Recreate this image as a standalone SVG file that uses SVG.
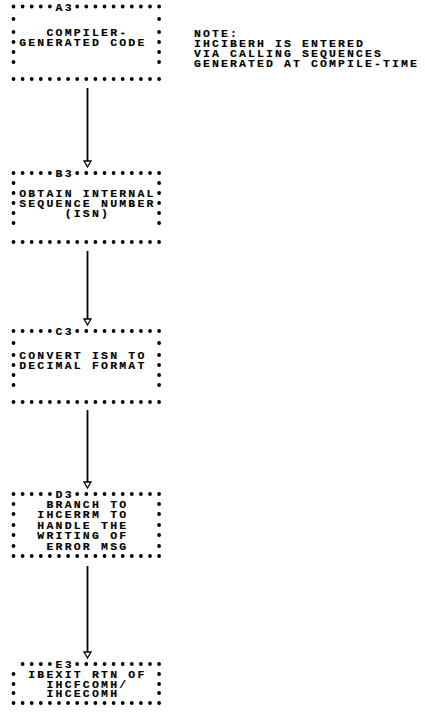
<svg xmlns="http://www.w3.org/2000/svg" width="425" height="713" viewBox="0 0 425 713">
<style>
.bg{fill:#fff}
.d{fill:none;stroke:#000;stroke-width:3.8;stroke-linecap:round}
.row{stroke-dasharray:0 9.1}
.t{font-family:"Liberation Mono","DejaVu Sans Mono",monospace;font-size:11.5px;font-weight:bold;fill:#000;stroke:#000;stroke-width:0.15;letter-spacing:2.2px}
.n{letter-spacing:2.1px}
.ln{fill:none;stroke:#000;stroke-width:1.8}
.ah{fill:#fff;stroke:#000;stroke-width:1.3;stroke-linejoin:miter}
</style>
<rect class="bg" width="425" height="713"/>

<g id="connectors">
  <path class="ln" d="M87.5 88V161"/>
  <polygon class="ah" points="84,161 91,161 87.5,167"/>
  <path class="ln" d="M87.5 251V319"/>
  <polygon class="ah" points="84,319 91,319 87.5,325"/>
  <path class="ln" d="M87.5 410V482"/>
  <polygon class="ah" points="84,482 91,482 87.5,488"/>
  <path class="ln" d="M87.5 566V652"/>
  <polygon class="ah" points="84,652 91,652 87.5,658"/>
</g>

<g id="A3">
  <path class="d row" d="M13.5 6.5H50M77.2 6.5H159.2M13.5 79H159.2"/>
  <path class="d" d="M13.5 19h0M13.5 32h0M13.5 42h0M13.5 52h0M13.5 62h0M159.1 19h0M159.1 32h0M159.1 42h0M159.1 52h0M159.1 62h0"/>
  <text class="t" x="55.55" y="10.5">A3</text>
  <text class="t" x="46.45" y="36">COMPILER-</text>
  <text class="t" x="19.15" y="46">GENERATED CODE</text>
</g>

<g id="note">
  <text class="t n" x="194" y="37">NOTE:</text>
  <text class="t n" x="194" y="47">IHCIBERH IS ENTERED</text>
  <text class="t n" x="194" y="57">VIA CALLING SEQUENCES</text>
  <text class="t n" x="194" y="67">GENERATED AT COMPILE-TIME</text>
</g>

<g id="B3">
  <path class="d row" d="M13.5 173H50M77.2 173H159.2M13.5 242H159.2"/>
  <path class="d" d="M13.5 183h0M13.5 193h0M13.5 203h0M13.5 213h0M13.5 223h0M159.1 183h0M159.1 193h0M159.1 203h0M159.1 213h0M159.1 223h0"/>
  <text class="t" x="55.55" y="177">B3</text>
  <text class="t" x="19.15" y="197">OBTAIN INTERNAL</text>
  <text class="t" x="19.15" y="207">SEQUENCE NUMBER</text>
  <text class="t" x="64.65" y="217">(ISN)</text>
</g>

<g id="C3">
  <path class="d row" d="M13.5 331H50M77.2 331H159.2M13.5 402H159.2"/>
  <path class="d" d="M13.5 343h0M13.5 355h0M13.5 365h0M13.5 375h0M13.5 385h0M159.1 343h0M159.1 355h0M159.1 365h0M159.1 375h0M159.1 385h0"/>
  <text class="t" x="55.55" y="335">C3</text>
  <text class="t" x="19.15" y="359">CONVERT ISN TO</text>
  <text class="t" x="19.15" y="369">DECIMAL FORMAT</text>
</g>

<g id="D3">
  <path class="d row" d="M13.5 494H50M77.2 494H159.2M13.5 556H159.2"/>
  <path class="d" d="M13.5 504h0M13.5 514h0M13.5 525h0M13.5 535h0M13.5 546h0M159.1 504h0M159.1 514h0M159.1 525h0M159.1 535h0M159.1 546h0"/>
  <text class="t" x="55.55" y="498">D3</text>
  <text class="t" x="46.45" y="508">BRANCH TO</text>
  <text class="t" x="37.35" y="518">IHCERRM TO</text>
  <text class="t" x="37.35" y="529">HANDLE THE</text>
  <text class="t" x="37.35" y="539">WRITING OF</text>
  <text class="t" x="46.45" y="550">ERROR MSG</text>
</g>

<g id="E3">
  <path class="d row" d="M22.6 664H50M77.2 664H159.2M13.5 703H159.2"/>
  <path class="d" d="M13.5 674h0M13.5 684h0M13.5 693h0M159.1 674h0M159.1 684h0M159.1 693h0"/>
  <text class="t" x="55.55" y="668">E3</text>
  <text class="t" x="28.25" y="678">IBEXIT RTN OF</text>
  <text class="t" x="46.45" y="688">IHCFCOMH/</text>
  <text class="t" x="46.45" y="697">IHCECOMH</text>
</g>
</svg>
